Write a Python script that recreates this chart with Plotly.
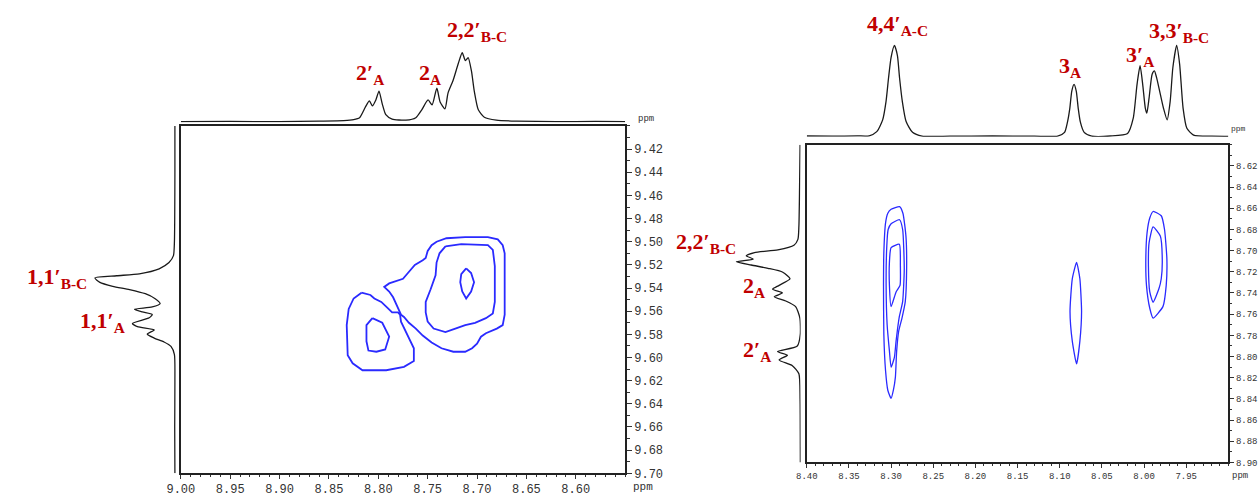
import plotly.graph_objects as go

W, H = 1258, 500

# ---------------- LEFT PANEL DATA ----------------
# top projection (ppm, relative intensity)
L_top_ppm = [9.000, 8.950, 8.900, 8.860, 8.835, 8.825, 8.819, 8.813, 8.809, 8.806, 8.8025, 8.7993, 8.796,
             8.7924, 8.786, 8.772, 8.762, 8.756, 8.7496, 8.7455, 8.7407, 8.7374, 8.7325, 8.7294, 8.7242,
             8.719, 8.715, 8.7118, 8.709, 8.7056, 8.7028, 8.6987, 8.6926, 8.6804, 8.660, 8.620, 8.580, 8.550]
L_top_int = [1.0, 1.2, 1.0, 1.5, 2.0, 3.0, 5.0, 16, 22, 17, 23, 32, 19,
             8, 3.5, 2.5, 5, 13, 23, 18, 35, 21, 14, 30, 43,
             60, 71, 63, 66, 52, 32, 13, 5.5, 2.5, 1.5, 1.0, 1.2, 1.0]

# side projection (ppm, relative intensity)
L_side_ppm = [9.400, 9.440, 9.480, 9.500, 9.512, 9.518, 9.5234, 9.5277, 9.5294, 9.5313, 9.5351, 9.5385,
              9.5413, 9.5449, 9.5492, 9.5534, 9.5563, 9.5583, 9.5606, 9.5628, 9.5657, 9.5705, 9.5734,
              9.5762, 9.5798, 9.5832, 9.5866, 9.5904, 9.5974, 9.620, 9.660, 9.700]
L_side_int = [1.0, 1.0, 1.2, 1.5, 2.5, 7, 17, 37, 60, 82, 77, 64,
              47, 31, 21, 16, 24, 42, 34, 24, 27, 44, 39,
              22, 29, 22, 12, 5, 1.5, 1.0, 1.2, 1.0]

# cross-peak contours (F2 ppm, F1 ppm)
L_c1_x = [8.777, 8.779, 8.782, 8.785, 8.789, 8.794, 8.789, 8.782, 8.775, 8.770, 8.763, 8.755, 8.752, 8.750,
          8.746, 8.741, 8.731, 8.712, 8.689, 8.679, 8.674, 8.672, 8.672, 8.672, 8.674, 8.680, 8.691, 8.696,
          8.700, 8.705, 8.712, 8.724, 8.736, 8.746, 8.755, 8.762, 8.769, 8.774]
L_c1_y = [9.563, 9.559, 9.554, 9.548, 9.543, 9.539, 9.536, 9.534, 9.532, 9.527, 9.520, 9.516, 9.514, 9.508,
          9.503, 9.500, 9.497, 9.496, 9.496, 9.498, 9.503, 9.510, 9.535, 9.563, 9.572, 9.575, 9.579, 9.582,
          9.588, 9.592, 9.595, 9.595, 9.592, 9.587, 9.581, 9.575, 9.570, 9.565]
L_c2_x = [8.732, 8.716, 8.689, 8.684, 8.682, 8.682, 8.684, 8.691, 8.702, 8.712, 8.722, 8.732, 8.744, 8.750,
          8.752, 8.752, 8.747, 8.742, 8.741, 8.738]
L_c2_y = [9.504, 9.502, 9.503, 9.507, 9.521, 9.552, 9.562, 9.566, 9.570, 9.572, 9.575, 9.578, 9.575, 9.569,
          9.561, 9.552, 9.541, 9.529, 9.518, 9.510]
L_c3_x = [8.711, 8.706, 8.703, 8.706, 8.711, 8.715, 8.717, 8.716]
L_c3_y = [9.523, 9.527, 9.535, 9.543, 9.549, 9.543, 9.535, 9.528]
L_c4_x = [8.817, 8.808, 8.804, 8.797, 8.792, 8.786, 8.780, 8.778, 8.777, 8.771, 8.764, 8.764, 8.774, 8.792,
          8.816, 8.826, 8.831, 8.832, 8.830, 8.825]
L_c4_y = [9.544, 9.546, 9.549, 9.552, 9.556, 9.561, 9.561, 9.563, 9.569, 9.579, 9.592, 9.603, 9.608, 9.611,
          9.611, 9.605, 9.598, 9.572, 9.558, 9.549]
L_c5_x = [8.806, 8.796, 8.789, 8.793, 8.802, 8.810, 8.812, 8.812]
L_c5_y = [9.566, 9.570, 9.582, 9.593, 9.595, 9.594, 9.586, 9.572]

L_xticks = [9.00, 8.95, 8.90, 8.85, 8.80, 8.75, 8.70, 8.65, 8.60]
L_yticks = [9.42, 9.44, 9.46, 9.48, 9.50, 9.52, 9.54, 9.56, 9.58, 9.60, 9.62, 9.64, 9.66, 9.68, 9.70]

# ---------------- RIGHT PANEL DATA ----------------
R_top_ppm = [8.400, 8.370, 8.340, 8.326, 8.317, 8.310, 8.306, 8.303, 8.300, 8.296, 8.2925, 8.290, 8.2867,
             8.2822, 8.2746, 8.2634, 8.230, 8.180, 8.130, 8.1024, 8.0943, 8.0907, 8.088, 8.0857, 8.083,
             8.0804, 8.0781, 8.0755, 8.071, 8.062, 8.040, 8.0195, 8.0128, 8.0083, 8.0047, 8.0016, 7.9985,
             7.9967, 7.994, 7.9904, 7.9877, 7.9851, 7.9815, 7.977, 7.9726, 7.969, 7.9658, 7.9613, 7.9578,
             7.9537, 7.9492, 7.9412, 7.920, 7.900]
R_top_int = [0.8, 0.6, 0.9, 1.0, 5.2, 17.2, 36, 60, 80.8, 92.8, 82.5, 60, 36,
             15.5, 4.5, 0.7, 0.6, 0.8, 0.6, 0.7, 4.5, 15.5, 29.2, 46.4, 53.3,
             46.4, 29.2, 14.8, 4.5, 0.7, 0.8, 3.4, 18.9, 53.3, 72.2, 53.3, 29.2,
             24, 39.5, 63.6, 67, 60.1, 46.4, 29.2, 17.2, 36, 70.4, 92.8, 73.9,
             29.2, 8.6, 1.7, 0.6, 0.5]

R_side_ppm = [8.600, 8.640, 8.677, 8.6894, 8.695, 8.6994, 8.7019, 8.7049, 8.708, 8.7105, 8.7136, 8.7167,
              8.7204, 8.7266, 8.7328, 8.7365, 8.7399, 8.7436, 8.7476, 8.7529, 8.7637, 8.7792, 8.790,
              8.7953, 8.7987, 8.8033, 8.8086, 8.8163, 8.840, 8.870, 8.900]
R_side_int = [0.5, 1.0, 1.7, 2.7, 6.7, 23, 46.7, 55, 48, 65, 50, 33,
              18, 10.7, 21.7, 28.3, 18.3, 26.7, 15, 5, 0.7, 0.3, 3.3,
              23.3, 13.3, 21.7, 8.3, 1.7, 0.5, 0.3, 0.2]

R_c1_x = [8.300, 8.290, 8.286, 8.2824, 8.2816, 8.2832, 8.2871, 8.291, 8.2934, 8.2949, 8.2973, 8.300, 8.3039,
          8.3066, 8.3086, 8.309, 8.3086, 8.3066, 8.3039]
R_c1_y = [8.661, 8.6585, 8.6647, 8.6863, 8.7173, 8.7482, 8.7637, 8.7761, 8.7947, 8.8194, 8.8318, 8.8395,
          8.8318, 8.8132, 8.7792, 8.7328, 8.7018, 8.674, 8.6647]
R_c2_x = [8.300, 8.290, 8.2863, 8.2844, 8.2863, 8.2902, 8.2922, 8.2941, 8.2961, 8.300, 8.302, 8.3047, 8.3059,
          8.3051, 8.3035]
R_c2_y = [8.6746, 8.6709, 8.6801, 8.7173, 8.7482, 8.7622, 8.773, 8.7854, 8.8008, 8.8101, 8.7947, 8.770,
          8.7328, 8.6956, 8.6801]
R_c3_x = [8.300, 8.2902, 8.289, 8.2894, 8.2941, 8.300, 8.302, 8.302]
R_c3_y = [8.6972, 8.6941, 8.7142, 8.7328, 8.739, 8.7529, 8.7328, 8.7111]
R_c4_x = [8.080, 8.0761, 8.0741, 8.0761, 8.080, 8.0851, 8.0878, 8.0851]
R_c4_y = [8.7111, 8.7266, 8.7575, 8.7854, 8.807, 8.7854, 8.7575, 8.7266]
R_c5_x = [7.9893, 7.9796, 7.9757, 7.9729, 7.9737, 7.9776, 7.9893, 7.9932, 7.9971, 7.9979, 7.9964, 7.9932]
R_c5_y = [8.6631, 8.6671, 8.6801, 8.708, 8.7328, 8.7529, 8.7637, 8.7544, 8.7328, 8.708, 8.6832, 8.6693]
R_c6_x = [7.9893, 7.9807, 7.9784, 7.9796, 7.9823, 7.9893, 7.9932, 7.9948, 7.994]
R_c6_y = [8.6777, 8.6863, 8.708, 8.7266, 8.7358, 8.7488, 8.739, 8.7142, 8.6925]

R_xticks = [8.40, 8.35, 8.30, 8.25, 8.20, 8.15, 8.10, 8.05, 8.00, 7.95]
R_yticks = [8.62, 8.64, 8.66, 8.68, 8.70, 8.72, 8.74, 8.76, 8.78, 8.80, 8.82, 8.84, 8.86, 8.88, 8.90]

# ---------------- FIGURE ----------------
SPEC = dict(color="#1a1a1a", width=1.3, shape="spline", smoothing=0.6)
BLUE = "#2a2aff"
RED = "#C00000"

fig = go.Figure()


def closed(xs, ys):
    return list(xs) + [xs[0]], list(ys) + [ys[0]]


fig.add_trace(go.Scatter(x=L_top_ppm, y=L_top_int, mode="lines", line=SPEC, xaxis="x2", yaxis="y2"))
fig.add_trace(go.Scatter(x=L_side_int, y=L_side_ppm, mode="lines", line=SPEC, xaxis="x3", yaxis="y3"))
for cx, cy in [(L_c1_x, L_c1_y), (L_c2_x, L_c2_y), (L_c3_x, L_c3_y), (L_c4_x, L_c4_y), (L_c5_x, L_c5_y)]:
    xx, yy = closed(cx, cy)
    fig.add_trace(go.Scatter(x=xx, y=yy, mode="lines", line=dict(color=BLUE, width=1.8), xaxis="x", yaxis="y"))

fig.add_trace(go.Scatter(x=R_top_ppm, y=R_top_int, mode="lines", line=SPEC, xaxis="x5", yaxis="y5"))
fig.add_trace(go.Scatter(x=R_side_int, y=R_side_ppm, mode="lines", line=SPEC, xaxis="x6", yaxis="y6"))
for cx, cy in [(R_c1_x, R_c1_y), (R_c2_x, R_c2_y), (R_c3_x, R_c3_y), (R_c4_x, R_c4_y), (R_c5_x, R_c5_y),
               (R_c6_x, R_c6_y)]:
    xx, yy = closed(cx, cy)
    fig.add_trace(go.Scatter(x=xx, y=yy, mode="lines",
                             line=dict(color=BLUE, width=1.3, shape="spline", smoothing=0.5),
                             xaxis="x4", yaxis="y4"))


def px_x(v):
    return v / W


def px_y(v):
    return 1 - v / H


hidden = dict(visible=False, showgrid=False, zeroline=False)
frame = dict(showline=True, linecolor="#222", linewidth=1.5, mirror=True, showgrid=False, zeroline=False,
             ticks="outside", tickcolor="#333")

fig.update_layout(
    width=W, height=H, margin=dict(l=0, r=0, t=0, b=0),
    paper_bgcolor="white", plot_bgcolor="white", showlegend=False,
    # left 2D
    xaxis=dict(domain=[px_x(169), px_x(619)], range=[9.00, 8.55], anchor="y", **frame,
               tickmode="array", tickvals=L_xticks, ticktext=[f"{v:.2f}" for v in L_xticks], ticklen=4,
               tickfont=dict(family="Liberation Mono", size=12, color="#333"),
               minor=dict(dtick=0.01, tick0=9.0, ticks="outside", ticklen=2, tickcolor="#333", showgrid=False)),
    yaxis=dict(domain=[px_y(481), px_y(128)], range=[9.70, 9.40], anchor="x", side="right", **frame,
               tickmode="array", tickvals=L_yticks, ticktext=[f"{v:.2f}" for v in L_yticks], ticklen=5,
               tickfont=dict(family="Liberation Mono", size=12, color="#333"),
               minor=dict(dtick=0.01, tick0=9.4, ticks="outside", ticklen=3, tickcolor="#333", showgrid=False)),
    xaxis2=dict(domain=[px_x(169), px_x(619)], range=[9.00, 8.55], anchor="y2", **hidden),
    yaxis2=dict(domain=[px_y(124.6), 1.0], range=[0, 124.6], anchor="x2", **hidden),
    xaxis3=dict(domain=[px_x(30), px_x(164)], range=[134, 0], anchor="y3", **hidden),
    yaxis3=dict(domain=[px_y(481), px_y(128)], range=[9.70, 9.40], anchor="x3", **hidden),
    # right 2D
    xaxis4=dict(domain=[px_x(803), px_x(1230)], range=[8.40, 7.90], anchor="y4", **frame,
                tickmode="array", tickvals=R_xticks, ticktext=[f"{v:.2f}" for v in R_xticks], ticklen=4,
                tickfont=dict(family="Liberation Mono", size=9, color="#333"),
                minor=dict(dtick=0.01, tick0=8.4, ticks="outside", ticklen=2, tickcolor="#333", showgrid=False)),
    yaxis4=dict(domain=[px_y(470), px_y(147)], range=[8.90, 8.60], anchor="x4", side="right", **frame,
                tickmode="array", tickvals=R_yticks, ticktext=[f"{v:.2f}" for v in R_yticks], ticklen=4,
                tickfont=dict(family="Liberation Mono", size=9, color="#333"),
                minor=dict(dtick=0.01, tick0=8.6, ticks="outside", ticklen=2, tickcolor="#333", showgrid=False)),
    xaxis5=dict(domain=[px_x(803), px_x(1230)], range=[8.40, 7.90], anchor="y5", **hidden),
    yaxis5=dict(domain=[px_y(139), 1.0], range=[0, 139], anchor="x5", **hidden),
    xaxis6=dict(domain=[px_x(650), px_x(796.7)], range=[146.7, 0], anchor="y6", **hidden),
    yaxis6=dict(domain=[px_y(470), px_y(147)], range=[8.90, 8.60], anchor="x6", **hidden),
)

LBL = dict(family="Liberation Serif", size=22, color=RED)
labels = [
    ("<b>2′<sub>A</sub></b>", 361, 75), ("<b>2<sub>A</sub></b>", 421, 75), ("<b>2,2′<sub>B-C</sub></b>", 469, 31),
    ("<b>1,1′<sub>B-C</sub></b>", 44, 283), ("<b>1,1′<sub>A</sub></b>", 90, 327),
    ("<b>4,4′<sub>A-C</sub></b>", 895, 25), ("<b>3<sub>A</sub></b>", 1070, 68), ("<b>3′<sub>A</sub></b>", 1140, 57),
    ("<b>3,3′<sub>B-C</sub></b>", 1180, 33), ("<b>2,2′<sub>B-C</sub></b>", 701, 247),
    ("<b>2<sub>A</sub></b>", 750, 292), ("<b>2′<sub>A</sub></b>", 753, 357),
]
ann = [dict(text=t, x=px_x(x), y=px_y(y), xref="paper", yref="paper", showarrow=False, font=LBL,
            xanchor="center", yanchor="middle") for t, x, y in labels]
PPM = dict(family="Liberation Mono", color="#333")
for x, y, s in [(640, 121, 9), (637, 495, 11), (1240, 131, 8), (1242, 484, 9)]:
    ann.append(dict(text="ppm", x=px_x(x), y=px_y(y), xref="paper", yref="paper", showarrow=False,
                    font=dict(size=s, **PPM), xanchor="center", yanchor="middle"))
fig.update_layout(annotations=ann)

fig.write_html("out.html")
